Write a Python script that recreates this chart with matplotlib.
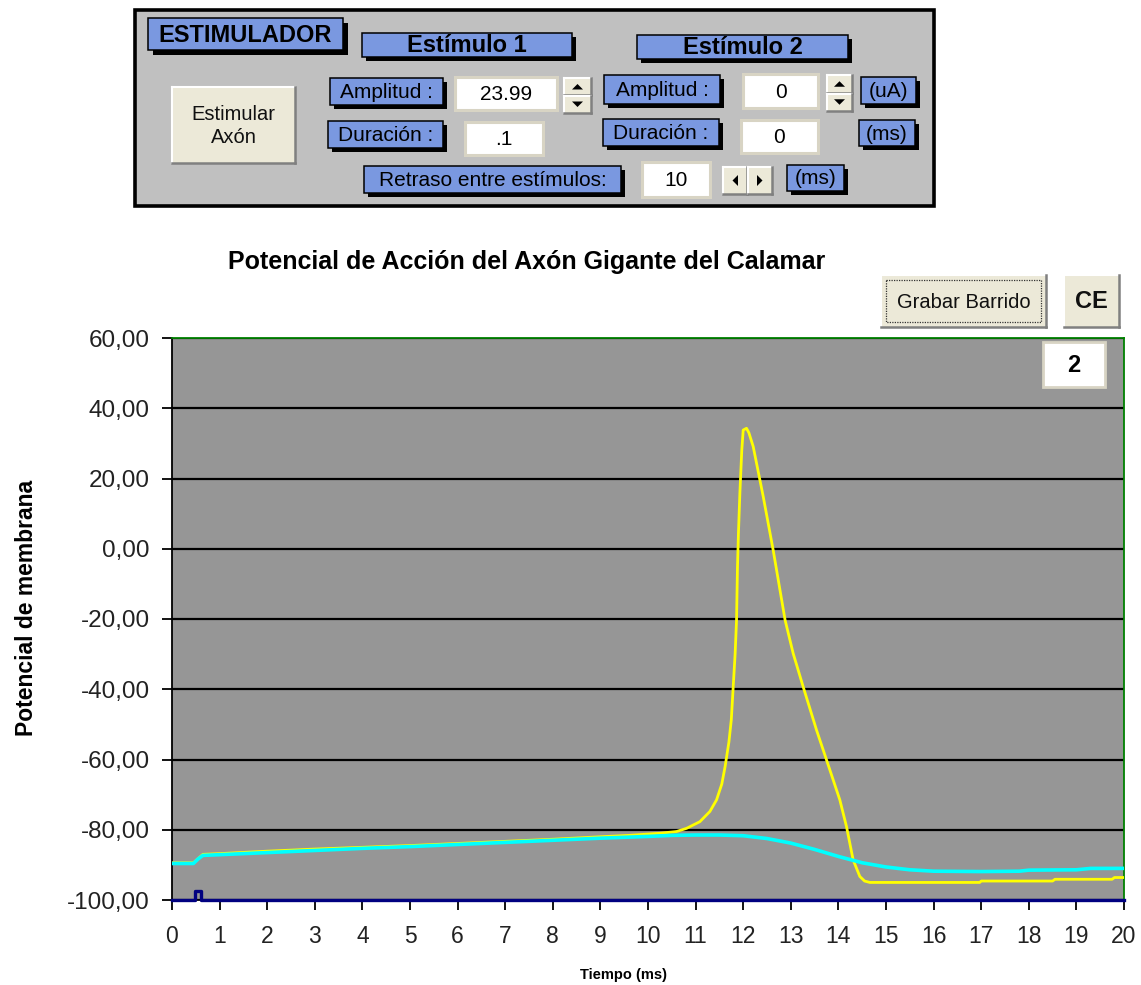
import matplotlib
matplotlib.use("Agg")
import matplotlib.pyplot as plt
from matplotlib.patches import Rectangle, Polygon
from matplotlib.ticker import FuncFormatter

plt.rcParams['font.family'] = ['Liberation Sans', 'DejaVu Sans']

# ---------------- data ----------------
# membrane potential of the axon (yellow)
axon_t = [0.0, 0.45, 0.65, 1.0, 2.0, 3.0, 4.0, 5.0, 6.0, 7.0, 8.0, 9.0, 9.6, 10.25,
          10.6, 10.81, 11.09, 11.30, 11.44, 11.55, 11.62, 11.70, 11.75, 11.79, 11.83,
          11.86, 11.88, 11.90, 11.93, 11.97, 12.0, 12.07, 12.12, 12.21, 12.42, 12.63,
          12.88, 13.05, 13.26, 13.54, 13.75, 14.03, 14.17, 14.31, 14.45, 14.55, 14.66,
          16.97, 17.0, 18.5, 18.55, 19.75, 19.8, 20.0]
axon_v = [-89.4, -89.4, -87.0, -86.8, -86.1, -85.5, -85.0, -84.5, -83.9, -83.3, -82.7,
          -82.0, -81.6, -81.0, -80.5, -79.6, -77.7, -74.8, -71.5, -67.0, -62.0, -55.0,
          -48.7, -39.3, -30.0, -20.3, -5.1, 4.4, 15.8, 28.0, 33.8, 34.3, 33.0, 29.1,
          14.9, -0.4, -20.3, -29.8, -39.3, -51.6, -60.1, -71.5, -79.1, -88.6, -93.3,
          -94.6, -95.0, -95.0, -94.6, -94.6, -94.1, -94.1, -93.6, -93.6]

# second trace (cyan)
cyan_t = [0.0, 0.45, 0.55, 0.65, 1.0, 2.0, 3.0, 4.0, 5.0, 6.0, 7.0, 8.0, 9.0, 10.0,
          10.5, 11.0, 11.5, 12.0, 12.5, 13.0, 13.5, 14.0, 14.5, 15.0, 15.5, 16.0,
          17.0, 17.8, 18.0, 19.0, 19.3, 20.0]
cyan_v = [-89.6, -89.6, -88.3, -87.3, -87.1, -86.5, -85.9, -85.3, -84.8, -84.2, -83.6,
          -83.0, -82.4, -81.9, -81.6, -81.5, -81.5, -81.7, -82.5, -83.8, -85.6, -87.6,
          -89.4, -90.6, -91.4, -91.8, -91.9, -91.8, -91.5, -91.4, -91.0, -91.0]

# stimulus trace (navy)
stim_t = [0.0, 0.48, 0.48, 0.60, 0.60, 20.0]
stim_v = [-100.0, -100.0, -97.4, -97.4, -100.0, -100.0]

x_ticks = list(range(0, 21))
y_ticks = [-100, -80, -60, -40, -20, 0, 20, 40, 60]

title = "Potencial de Acción del Axón Gigante del Calamar"
x_label = "Tiempo (ms)"
y_label = "Potencial de membrana"

# panel values
amp1, dur1 = "23.99", ".1"
amp2, dur2 = "0", "0"
delay = "10"
sweep_no = "2"

# ---------------- figure ----------------
W, H = 1141, 985
fig = plt.figure(figsize=(W / 100, H / 100), dpi=100)
fig.patch.set_facecolor('white')

ax = fig.add_axes([172 / W, 1 - 900 / H, (1124 - 172) / W, (900 - 338) / H])
ax.set_facecolor('#969696')
ax.plot(axon_t, axon_v, color='#FFFF00', lw=2.0, zorder=3)
ax.plot(cyan_t, cyan_v, color='#00FFFF', lw=2.6, zorder=4)
ax.plot(stim_t, stim_v, color='#000080', lw=2.4, zorder=5, clip_on=False)

ax.set_xlim(0, 20)
ax.set_ylim(-100, 60)
ax.set_xticks(x_ticks)
ax.set_yticks(y_ticks)
ax.yaxis.set_major_formatter(FuncFormatter(lambda v, p: f"{v:.2f}".replace('.', ',')))
ax.set_axisbelow(True)
ax.yaxis.grid(True, color='black', lw=1.6)
ax.tick_params(axis='both', direction='out', length=7, width=1.3, color='black',
               labelcolor='#222222')
ax.tick_params(axis='y', labelsize=17.5, pad=9)
ax.tick_params(axis='x', labelsize=16.5, pad=11)
for s in ['left', 'bottom']:
    ax.spines[s].set_color('black')
    ax.spines[s].set_linewidth(1.3)
for s in ['top', 'right']:
    ax.spines[s].set_color('#008000')
    ax.spines[s].set_linewidth(1.3)

fig.text(527 / W, 1 - 262 / H, title, ha='center', va='center', fontsize=18,
         fontweight='bold')
fig.text(27 / W, 1 - 608 / H, y_label, ha='center', va='center', rotation=90,
         fontsize=16.5, fontweight='bold')
fig.text(623 / W, 1 - 975 / H, x_label, ha='center', va='center', fontsize=10.5,
         fontweight='bold')

# ---------------- overlay (widgets) in pixel coordinates ----------------
ov = fig.add_axes([0, 0, 1, 1], zorder=10)
ov.set_xlim(0, W)
ov.set_ylim(H, 0)
ov.axis('off')
ov.patch.set_alpha(0)

BLUE = '#7A98E0'
BEIGE = '#ECE9D8'
PANEL = '#C0C0C0'


def blue_box(x0, y0, x1, y1, text, size=15, bold=False, sh=4):
    ov.add_patch(Rectangle((x0 + sh, y0 + sh), x1 - x0, y1 - y0, fc='black', ec='none'))
    ov.add_patch(Rectangle((x0, y0), x1 - x0, y1 - y0, fc=BLUE, ec='black', lw=1.1))
    ov.text((x0 + x1) / 2, (y0 + y1) / 2 + 1, text, ha='center', va='center',
            fontsize=size, fontweight='bold' if bold else 'normal', color='black')


def white_box(x0, y0, x1, y1, text, size=15):
    ov.add_patch(Rectangle((x0, y0), x1 - x0, y1 - y0, fc='white', ec='#D8D4C4', lw=2.2))
    ov.text((x0 + x1) / 2, (y0 + y1) / 2 + 1, text, ha='center', va='center',
            fontsize=size, color='black')


def button(x0, y0, x1, y1, text=None, size=15, bold=False, focus=False):
    ov.add_patch(Rectangle((x0, y0), x1 - x0, y1 - y0, fc=BEIGE, ec='none'))
    ov.plot([x0, x1], [y0, y0], color='white', lw=1.5)
    ov.plot([x0, x0], [y0, y1], color='white', lw=1.5)
    ov.plot([x0, x1], [y1, y1], color='#808080', lw=1.8)
    ov.plot([x1, x1], [y0, y1], color='#808080', lw=1.8)
    if focus:
        ov.add_patch(Rectangle((x0 + 5, y0 + 5), x1 - x0 - 10, y1 - y0 - 10, fc='none',
                               ec='#333333', lw=0.9, ls=(0, (1, 1))))
    if text:
        ov.text((x0 + x1) / 2, (y0 + y1) / 2 + 1, text, ha='center', va='center',
                fontsize=size, fontweight='bold' if bold else 'normal', color='#111111',
                linespacing=1.25)


def tri(cx, cy, d, s=5.5):
    if d == 'up':
        pts = [(cx - s, cy + s / 2), (cx + s, cy + s / 2), (cx, cy - s / 2)]
    elif d == 'down':
        pts = [(cx - s, cy - s / 2), (cx + s, cy - s / 2), (cx, cy + s / 2)]
    elif d == 'left':
        pts = [(cx + s / 2, cy - s), (cx + s / 2, cy + s), (cx - s / 2, cy)]
    else:
        pts = [(cx - s / 2, cy - s), (cx - s / 2, cy + s), (cx + s / 2, cy)]
    ov.add_patch(Polygon(pts, closed=True, fc='black', ec='none'))


def spinner_v(x0, y0, x1, y1):
    ym = (y0 + y1) / 2
    button(x0, y0, x1, ym - 0.5)
    button(x0, ym + 0.5, x1, y1)
    tri((x0 + x1) / 2, (y0 + ym) / 2, 'up')
    tri((x0 + x1) / 2, (ym + y1) / 2, 'down')


def spinner_h(x0, y0, x1, y1):
    xm = (x0 + x1) / 2
    button(x0, y0, xm - 0.5, y1)
    button(xm + 0.5, y0, x1, y1)
    tri((x0 + xm) / 2, (y0 + y1) / 2, 'left')
    tri((xm + x1) / 2, (y0 + y1) / 2, 'right')


# panel
ov.add_patch(Rectangle((135, 10), 799, 196, fc=PANEL, ec='black', lw=2.6))

blue_box(148, 18, 343, 50, "ESTIMULADOR", size=17, bold=True, sh=5)
blue_box(362, 33, 572, 57, "Estímulo 1", size=17, bold=True)
blue_box(637, 35, 848, 59, "Estímulo 2", size=17, bold=True)

button(172, 87, 295, 163, "Estimular\nAxón", size=14.5)

blue_box(330, 78, 443, 105, "Amplitud :")
white_box(455, 77, 557, 110, amp1)
spinner_v(564, 78, 591, 113)
blue_box(328, 121, 443, 148, "Duración :")
white_box(465, 122, 543, 155, dur1)

blue_box(604, 75, 720, 104, "Amplitud :")
white_box(743, 74, 818, 108, amp2)
spinner_v(827, 75, 852, 111)
blue_box(861, 77, 916, 104, "(uA)")
blue_box(603, 119, 719, 146, "Duración :")
white_box(741, 120, 818, 153, dur2)
blue_box(859, 120, 915, 146, "(ms)")

blue_box(364, 166, 621, 193, "Retraso entre estímulos:")
white_box(642, 162, 710, 197, delay)
spinner_h(723, 167, 772, 194)
blue_box(787, 165, 844, 191, "(ms)")

# chart buttons
button(881, 275, 1046, 327, "Grabar Barrido", size=14.5, focus=True)
button(1064, 275, 1119, 327, "CE", size=17, bold=True)
ov.add_patch(Rectangle((1043, 342), 62, 45, fc='white', ec='#D8D4C4', lw=2.0))
ov.text(1074, 365, sweep_no, ha='center', va='center', fontsize=17, fontweight='bold')

fig.savefig('out.png', dpi=100, facecolor='white')
